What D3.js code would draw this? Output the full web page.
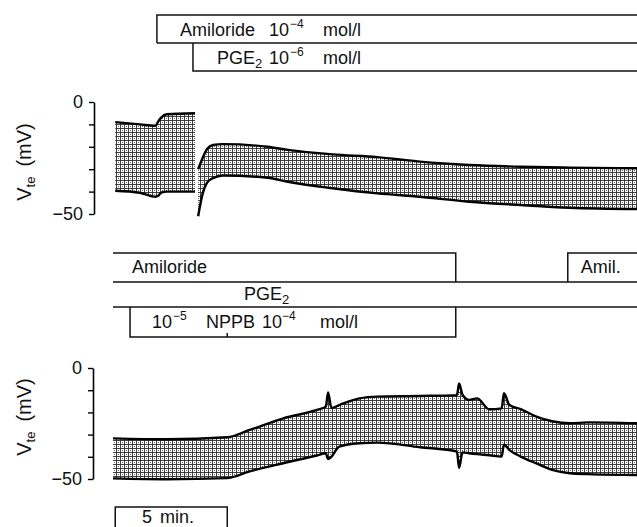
<!DOCTYPE html>
<html>
<head>
<meta charset="utf-8">
<script src="https://cdn.jsdelivr.net/npm/d3@7"></script>
<style>
  body { margin: 0; background: #fff; }
  svg { display: block; }
  text { font-family: "Liberation Sans", Arial, sans-serif; fill: #111; }
</style>
</head>
<body>
<svg id="chart" width="637" height="527"></svg>
<script>
// time in minutes, Vte in mV
// upper panel: amiloride, then PGE2 (trace interrupted when PGE2 is added)
const topTimeA  = [0.1, 1.2, 1.9, 2.0, 2.15, 2.4, 3.66];
const topUpperA = [-9, -10, -10.6, -9, -7, -5.5, -5];
const topLowerA = [-39.6, -40.5, -42.3, -42, -40.5, -40, -40];

const topTimeB  = [3.8, 4.0, 4.2, 4.46, 4.9, 6.9, 7.8, 9.8, 11.8, 13.7, 15.9, 18.2, 20.4, 23.4];
const topUpperB = [-30, -25, -21, -19.2, -18.8, -20, -21.4, -23.4, -24.6, -26.6, -28.1, -28.9, -29.3, -29.6];
const topLowerB = [-51, -41, -36, -34, -32.8, -33.8, -35.6, -38.5, -40.8, -42.3, -44.5, -46, -47.2, -47.8];

// lower panel: amiloride + PGE2, NPPB 1e-5 then 1e-4, washout, amiloride again
const botTime  = [0, 2.4, 5.1, 6.1, 7.6, 9.1, 9.5, 9.6, 9.75, 10.1, 11.0, 11.8, 13.7, 15.35, 15.45, 15.6, 15.9, 16.25, 16.8, 17.35, 17.45, 17.7, 18.2, 18.9, 19.6, 20.4, 21.2, 23.4];
const botUpper = [-31.7, -32.1, -31.2, -27.9, -22.7, -18.9, -17.4, -11, -18, -16.7, -13.7, -12.9, -12.6, -12.2, -7, -12, -14.4, -13.7, -18.6, -18.2, -11.4, -16.7, -18.5, -21.9, -24, -24.9, -24.5, -24.9];
const botLower = [-49.7, -50.1, -49.6, -46.6, -42.9, -39.4, -38.4, -41, -40, -35.4, -33.9, -33.6, -35.7, -37.6, -45, -38, -38.4, -38.8, -39.3, -39.9, -34.6, -37, -39.9, -43, -45.9, -47.4, -47.8, -48.2];

// drug application times (min)
const topAmilOn = 1.96, topPgeOn = 3.57;
const botAmilOff = 15.3, botAmilOn = 20.3;
const nppbOn = 0.76, nppbStep = 5.1, nppbOff = 15.3;
const scaleBar = [0.1, 5.1];

const yTicks = [0, -10, -20, -30, -40, -50];

const svg = d3.select("#chart");
const W = 637;
const FS = 18;

const x = d3.scaleLinear().domain([0, 23.39]).range([113, 637]);
const yTop = d3.scaleLinear().domain([-50, 0]).range([214, 102]);
const yBot = d3.scaleLinear().domain([-50, 0]).range([479, 368]);

// chart-recorder mesh inside the trace envelope
const defs = svg.append("defs");
const pat = defs.append("pattern")
  .attr("id", "mesh").attr("patternUnits", "userSpaceOnUse")
  .attr("width", 4).attr("height", 4);
pat.append("rect").attr("width", 4).attr("height", 4).attr("fill", "#fff");
pat.append("path").attr("d", "M0.5,0V4M0,0.5H4")
  .attr("stroke", "#2a2a2a").attr("stroke-width", 0.9);
pat.append("rect").attr("x", 2).attr("y", 2).attr("width", 1).attr("height", 1).attr("fill", "#666");

function zipTrace(t, up, lo) {
  return t.map((d, i) => ({ t: d, up: up[i], lo: lo[i] }));
}

function drawTrace(data, y) {
  const area = d3.area()
    .x(d => x(d.t)).y0(d => y(d.lo)).y1(d => y(d.up))
    .curve(d3.curveMonotoneX);
  svg.append("path").datum(data)
    .attr("d", area).attr("fill", "url(#mesh)");
  ["up", "lo"].forEach(k => {
    svg.append("path").datum(data)
      .attr("d", d3.line().x(d => x(d.t)).y(d => y(d[k])).curve(d3.curveMonotoneX))
      .attr("fill", "none").attr("stroke", "#000").attr("stroke-width", 2.4);
  });
}

drawTrace(zipTrace(topTimeA, topUpperA, topLowerA), yTop);
drawTrace(zipTrace(topTimeB, topUpperB, topLowerB), yTop);
drawTrace(zipTrace(botTime, botUpper, botLower), yBot);

// axes
function drawAxis(y, ax, cy) {
  const g = svg.append("g").attr("transform", `translate(${ax},0)`)
    .call(d3.axisLeft(y).tickValues(yTicks).tickSize(5).tickSizeOuter(0).tickPadding(6)
      .tickFormat(d => d === 0 ? "0" : d === -50 ? "\u221250" : ""));
  g.select(".domain").attr("stroke", "#000").attr("stroke-width", 1.6);
  g.selectAll(".tick line").attr("stroke", "#000").attr("stroke-width", 1.4);
  g.selectAll(".tick text").attr("font-size", FS).attr("fill", "#111")
    .style("font-family", '"Liberation Sans", Arial, sans-serif');
  const lab = svg.append("text")
    .attr("transform", `translate(31,${cy}) rotate(-90)`)
    .attr("text-anchor", "middle").attr("font-size", 20);
  lab.append("tspan").text("V");
  lab.append("tspan").attr("font-size", 13).attr("dy", 4).text("te");
  lab.append("tspan").attr("dy", -4).text("\u2002(mV)");
}
drawAxis(yTop, 94, 162);
drawAxis(yBot, 93, 417);

// drug bars
function line(pts) {
  svg.append("path").attr("d", d3.line()(pts))
    .attr("fill", "none").attr("stroke", "#111").attr("stroke-width", 1.5);
}
function label(parts, x0, base) {
  const t = svg.append("text").attr("x", x0).attr("y", base).attr("font-size", FS);
  parts.forEach(p => {
    const s = t.append("tspan").text(p.s);
    if (p.x != null) s.attr("x", p.x);
    if (p.sup) s.attr("font-size", 12).attr("dy", -8);
    if (p.sub) s.attr("font-size", 13).attr("dy", 4);
    if (p.back) s.attr("dy", p.back);
  });
}

// top panel bars
line([[x(topAmilOn), 43], [x(topAmilOn), 15], [W, 15]]);
line([[x(topAmilOn), 43], [W, 43]]);
line([[x(topPgeOn), 43], [x(topPgeOn), 71], [W, 71]]);
label([{ s: "Amiloride" }, { s: "10", x: 269 }, { s: "\u22124", x: 290, sup: true },
       { s: "mol/l", x: 323, back: 8 }], 180, 36);
label([{ s: "PGE" }, { s: "2", sub: true }, { s: "10", x: 269, back: -4 },
       { s: "\u22126", x: 290, sup: true }, { s: "mol/l", x: 323, back: 8 }], 217, 64);

// bottom panel bars
line([[x(0), 253], [x(botAmilOff), 253], [x(botAmilOff), 282]]);
line([[x(botAmilOn), 282], [x(botAmilOn), 253], [W, 253]]);
line([[x(0), 282], [W, 282]]);
line([[x(0), 307], [W, 307]]);
line([[x(nppbOn), 307], [x(nppbOn), 337], [x(nppbOff), 337], [x(nppbOff), 307]]);
line([[x(nppbStep), 337], [x(nppbStep), 333]]);
label([{ s: "Amiloride" }], 132, 273);
label([{ s: "Amil." }], x(botAmilOn) + 13, 273);
label([{ s: "PGE" }, { s: "2", sub: true }], 244, 300);
label([{ s: "10" }, { s: "\u22125", x: 173, sup: true }, { s: "NPPB", x: 206, back: 8 },
       { s: "10", x: 262 }, { s: "\u22124", x: 282, sup: true }, { s: "mol/l", x: 320, back: 8 }], 152, 328);

// time scale bar
line([[x(scaleBar[0]), 527], [x(scaleBar[0]), 507], [x(scaleBar[1]), 507], [x(scaleBar[1]), 527]]);
label([{ s: "5" }, { s: "min.", x: 160 }], 142, 523);
</script>
</body>
</html>
